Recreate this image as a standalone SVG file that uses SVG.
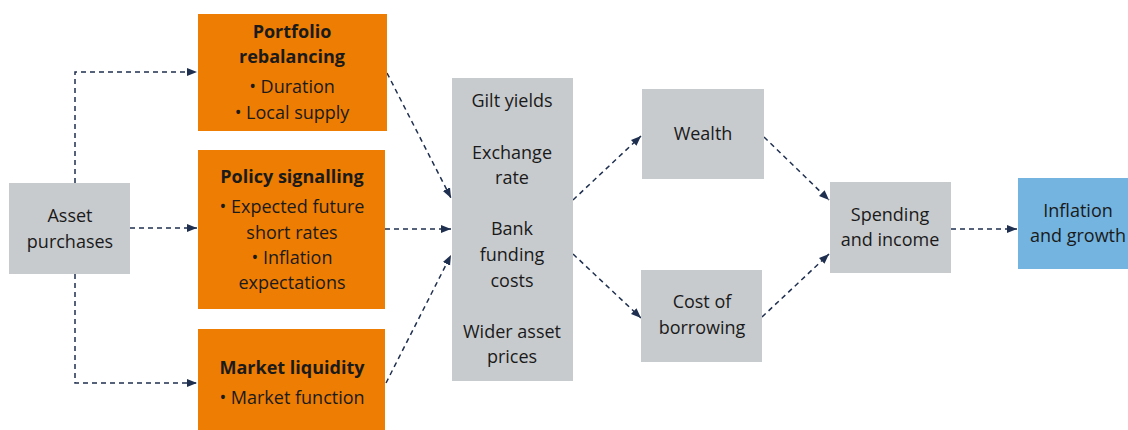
<svg xmlns="http://www.w3.org/2000/svg" width="1128" height="430" viewBox="0 0 1128 430">
<defs>
<marker id="ah" viewBox="0 0 10 10" refX="10" refY="5" markerWidth="10" markerHeight="10" markerUnits="userSpaceOnUse" orient="auto">
<path d="M0,1 L10,5 L0,9 Z" fill="#1f2f4f"/>
</marker>
<style>
.orange{fill:#ee7d03}
.grey{fill:#c8cbce}
.blue{fill:#73b4e0}
text{font-family:"Open Sans","Noto Sans",sans-serif;font-size:18px;fill:#1a1a1a;text-anchor:middle}
.b{font-weight:bold}
.c{fill:none;stroke:#1f2f4f;stroke-width:1.5;stroke-dasharray:5,4;marker-end:url(#ah)}
</style>
</defs>
<rect width="1128" height="430" fill="#ffffff"/>
<g id="connectors">
<path class="c" d="M75,183 V72 H197"/>
<path class="c" d="M130,228 H197"/>
<path class="c" d="M75,274 V383 H197"/>
<path class="c" d="M387,73 L451,198"/>
<path class="c" d="M385,229 H451"/>
<path class="c" d="M386,383 L451,255"/>
<path class="c" d="M573,200 L641,136"/>
<path class="c" d="M573,254 L641,318"/>
<path class="c" d="M764,137 L829,200"/>
<path class="c" d="M762,317 L829,254"/>
<path class="c" d="M951,229 H1017"/>
</g>
<g id="asset-purchases">
<rect class="grey" x="9" y="183" width="121" height="91"/>
<text x="70" y="222">Asset</text>
<text x="70" y="248">purchases</text>
</g>
<g id="portfolio-rebalancing">
<rect class="orange" x="198" y="14" width="189" height="117"/>
<text class="b" x="292" y="38">Portfolio</text>
<text class="b" x="292" y="63">rebalancing</text>
<text x="292" y="93">• Duration</text>
<text x="292" y="119">• Local supply</text>
</g>
<g id="policy-signalling">
<rect class="orange" x="198" y="150" width="187" height="159"/>
<text class="b" x="292" y="183">Policy signalling</text>
<text x="292" y="213">• Expected future</text>
<text x="292" y="239">short rates</text>
<text x="292" y="264">• Inflation</text>
<text x="292" y="289">expectations</text>
</g>
<g id="market-liquidity">
<rect class="orange" x="198" y="329" width="187" height="105"/>
<text class="b" x="292" y="374">Market liquidity</text>
<text x="292" y="404">• Market function</text>
</g>
<g id="transmission">
<rect class="grey" x="452" y="78" width="121" height="303"/>
<text x="512" y="107">Gilt yields</text>
<text x="512" y="159">Exchange</text>
<text x="512" y="184">rate</text>
<text x="512" y="235">Bank</text>
<text x="512" y="261">funding</text>
<text x="512" y="287">costs</text>
<text x="512" y="338">Wider asset</text>
<text x="512" y="363">prices</text>
</g>
<g id="wealth">
<rect class="grey" x="642" y="89" width="122" height="90"/>
<text x="703" y="140">Wealth</text>
</g>
<g id="cost-of-borrowing">
<rect class="grey" x="641" y="270" width="121" height="92"/>
<text x="702" y="308">Cost of</text>
<text x="702" y="334">borrowing</text>
</g>
<g id="spending-and-income">
<rect class="grey" x="830" y="182" width="121" height="91"/>
<text x="890" y="221">Spending</text>
<text x="890" y="246">and income</text>
</g>
<g id="inflation-and-growth">
<rect class="blue" x="1018" y="178" width="122" height="91"/>
<text x="1078" y="217">Inflation</text>
<text x="1078" y="242">and growth</text>
</g>
</svg>
